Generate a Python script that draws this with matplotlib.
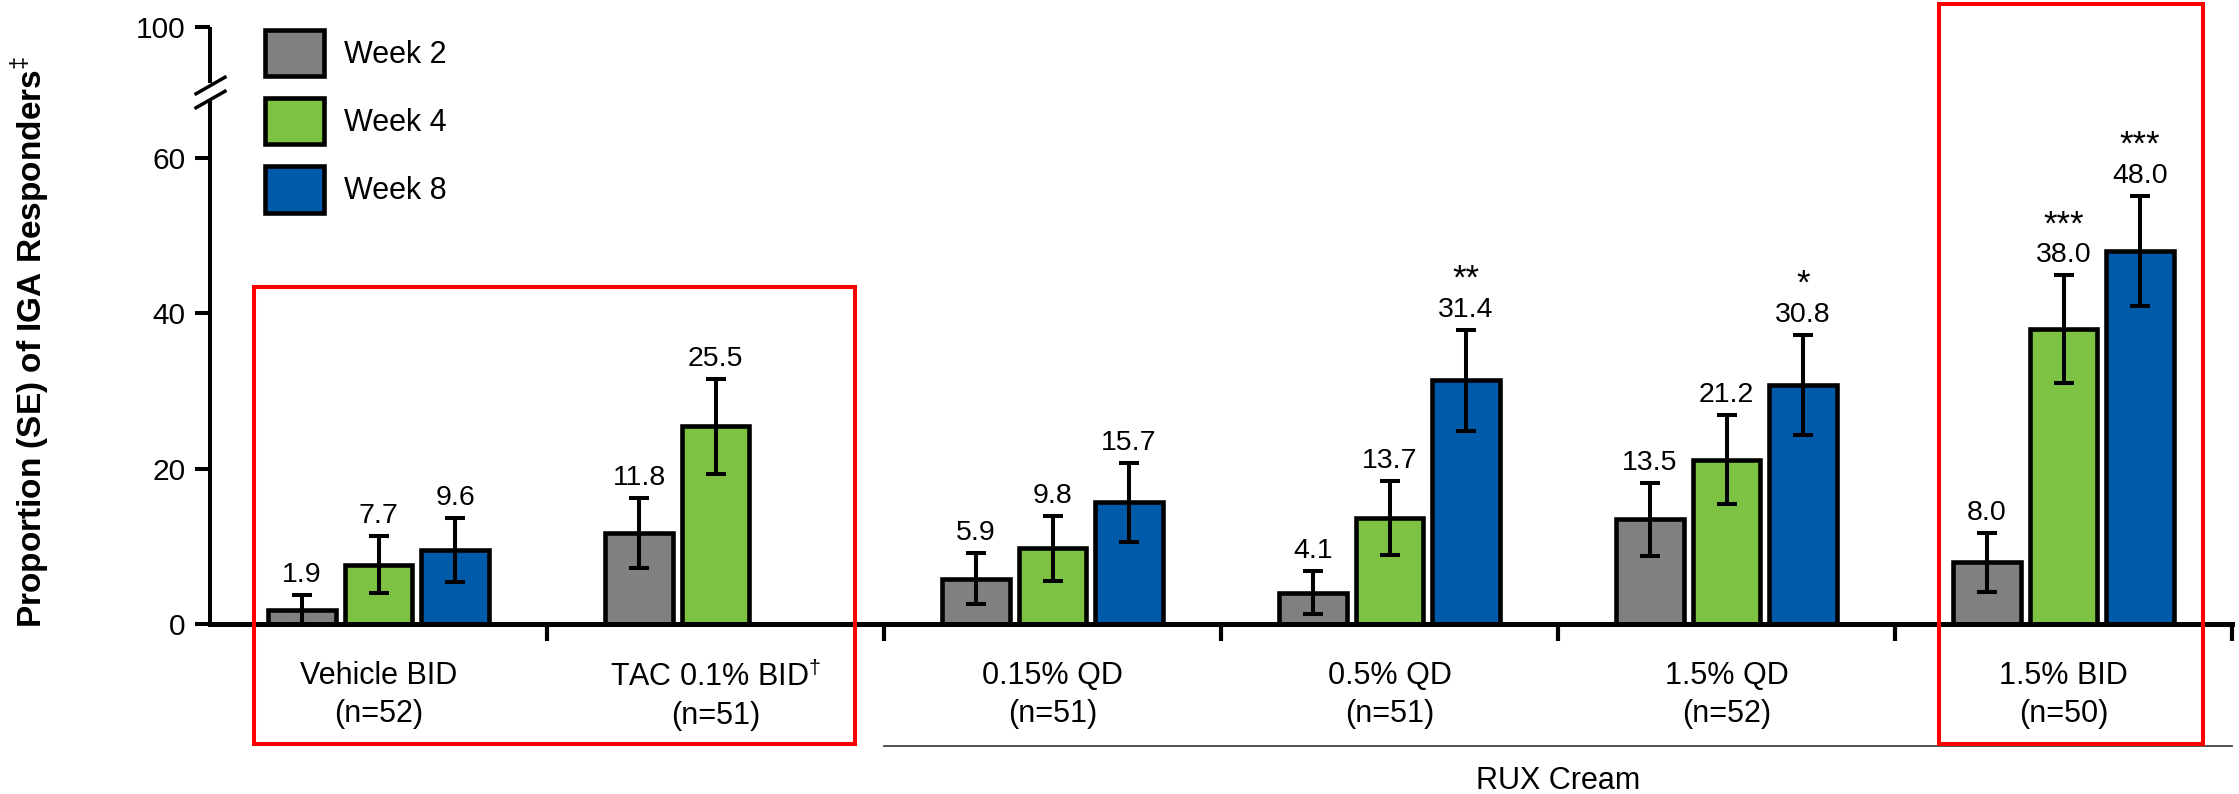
import numpy as np
import matplotlib
matplotlib.use('Agg')
import matplotlib.pyplot as plt
import matplotlib.transforms as mtransforms
from matplotlib.patches import Rectangle
from matplotlib.ticker import NullFormatter

groups = ['Vehicle BID\n(n=52)', 'TAC 0.1% BID$^{\\dagger}$\n(n=51)', '0.15% QD\n(n=51)',
          '0.5% QD\n(n=51)', '1.5% QD\n(n=52)', '1.5% BID\n(n=50)']
weeks = ['Week 2', 'Week 4', 'Week 8']
week2 = [1.9, 11.8, 5.9, 4.1, 13.5, 8.0]
week4 = [7.7, 25.5, 9.8, 13.7, 21.2, 38.0]
week8 = [9.6, np.nan, 15.7, 31.4, 30.8, 48.0]
se2 = [1.9, 4.5, 3.3, 2.8, 4.7, 3.8]
se4 = [3.7, 6.1, 4.2, 4.8, 5.7, 6.9]
se8 = [4.1, np.nan, 5.1, 6.5, 6.4, 7.1]
stars2 = ['', '', '', '', '', '']
stars4 = ['', '', '', '', '', '***']
stars8 = ['', '', '', '**', '*', '***']
colors = ['#808080', '#7DC242', '#005AAA']

plt.rcParams['font.family'] = ['Liberation Sans', 'DejaVu Sans']
plt.rcParams['mathtext.fontset'] = 'custom'
plt.rcParams['mathtext.rm'] = 'Liberation Sans'
plt.rcParams['mathtext.bf'] = 'Liberation Sans:bold'

fig = plt.figure(figsize=(22.39, 7.94), dpi=100)
ax = fig.add_axes([0.0938, 0.2135, 0.9031, 0.7525])

# y axis is broken above 68: the 68-100 stretch is squeezed
brk, k = 68.0, 0.275
def fwd(y):
    y = np.asarray(y, dtype=float)
    return np.where(y <= brk, y, brk + (y - brk) * k)
def inv(y):
    y = np.asarray(y, dtype=float)
    return np.where(y <= brk, y, brk + (y - brk) / k)
ax.set_yscale('function', functions=(fwd, inv))
ax.set_ylim(0, 100)
ax.set_xlim(-0.5, 5.5)

x = np.arange(len(groups))
off, w = 0.227, 0.2
series = [(week2, se2, stars2), (week4, se4, stars4), (week8, se8, stars8)]
for j, (vals, errs, stars) in enumerate(series):
    pos = x + (j - 1) * off
    vals = np.array(vals, dtype=float)
    errs = np.array(errs, dtype=float)
    ax.bar(pos, vals, w, color=colors[j], edgecolor='black', linewidth=3.3,
           label=weeks[j], zorder=2)
    ax.errorbar(pos, vals, yerr=errs, fmt='none', ecolor='black', elinewidth=2.9,
                capsize=7, capthick=2.9, zorder=3)
    for p, v, e, s in zip(pos, vals, errs, stars):
        if np.isnan(v):
            continue
        ax.annotate(f'{v:.1f}', xy=(p, v + e), xytext=(0, 5), textcoords='offset points',
                    ha='center', va='bottom', fontsize=20.5)
        if s:
            ax.annotate(s, xy=(p, v + e), xytext=(0, 24.5), textcoords='offset points',
                        ha='center', va='bottom', fontsize=25)

# spines and ticks
for s in ['top', 'right', 'left']:
    ax.spines[s].set_visible(False)
ax.spines['bottom'].set_linewidth(3.6)
yt = ax.get_yaxis_transform()
ax.plot([0, 0], [0, 67.5], transform=yt, color='black', lw=2.9,
        solid_capstyle='butt', clip_on=False)
ax.plot([0, 0], [74, 100], transform=yt, color='black', lw=2.9,
        solid_capstyle='butt', clip_on=False)
ax.plot([0, 0], [67.5, 73], transform=yt, ls='none', marker=[(-1, -0.57), (1, 0.57)],
        ms=23, mew=2.5, mec='black', mfc='none', clip_on=False)

ax.set_yticks([0, 20, 40, 60, 100])
ax.tick_params(axis='y', length=10.8, width=2.9, pad=7, labelsize=21.5)
ax.set_xticks(np.arange(0.5, 6, 1))
ax.xaxis.set_major_formatter(NullFormatter())
ax.set_xticks(x, groups, minor=True)
ax.tick_params(axis='x', which='major', length=12, width=3)
ax.tick_params(axis='x', which='minor', length=0, pad=26, labelsize=22)
for lbl in ax.get_xticklabels(minor=True):
    lbl.set_linespacing(1.35)

ax.text(-0.089, 0.472, 'Proportion (SE) of IGA Responders$^{\\ddagger}$', rotation=90,
        transform=ax.transAxes, ha='center', va='center', fontsize=24, fontweight='bold')

ax.legend(loc='upper left', bbox_to_anchor=(0.027, 0.995), frameon=False, fontsize=22,
          handlelength=1.95, handleheight=1.95, labelspacing=0.72, handletextpad=0.65,
          borderpad=0, borderaxespad=0)

# RUX cream bracket line
bt = mtransforms.blended_transform_factory(ax.transData, ax.transAxes)
ax.plot([1.5, 5.5], [-0.203, -0.203], transform=bt, color='#444444', lw=1.3, clip_on=False)
ax.text(3.5, -0.276, 'RUX Cream', transform=bt, ha='center', va='baseline', fontsize=22)

# highlight boxes
for g0, g1, top in [(0, 1, 0.565), (5, 5, 1.0385)]:
    x0, x1 = g0 - 0.37, g1 + 0.415
    ax.add_patch(Rectangle((x0, -0.2), x1 - x0, top + 0.2, transform=bt, fill=False,
                           ec='#FF0000', lw=2.9, clip_on=False, zorder=5))

fig.savefig('out.png', dpi=100)
